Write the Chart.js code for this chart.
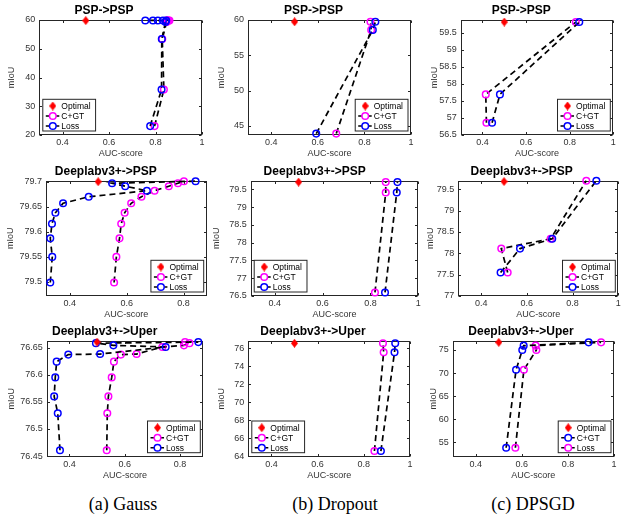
<!DOCTYPE html>
<html><head><meta charset="utf-8">
<script src="https://cdn.jsdelivr.net/npm/chart.js@4"></script>
<style>
html,body{margin:0;padding:0;background:#fff;}
#wrap{position:relative;width:622px;height:519px;overflow:hidden;background:#fff;}
#wrap canvas{position:absolute;}
.cap{position:absolute;top:494px;line-height:20px;font-size:18px;font-family:"Liberation Serif","Times New Roman",serif;color:#000;transform:translateX(-50%);white-space:nowrap;}
</style></head><body>
<div id="wrap">
<div class="cap" style="left:123px">(a) Gauss</div>
<div class="cap" style="left:335px">(b) Dropout</div>
<div class="cap" style="left:533px">(c) DPSGD</div>
</div>
<script>
// ---------- tick labels ----------
const xTicksFull  = [0.4, 0.6, 0.8, 1];
const xTicksShort = [0.4, 0.6, 0.8];
const yTicksGaussPsp     = [20, 30, 40, 50, 60];
const yTicksDropoutPsp   = [45, 50, 55, 60];
const yTicksDpsgdPsp     = [56.5, 57, 57.5, 58, 58.5, 59, 59.5];
const yTicksGaussDlPsp   = [79.5, 79.55, 79.6, 79.65, 79.7];
const yTicksDropoutDlPsp = [76.5, 77, 77.5, 78, 78.5, 79, 79.5];
const yTicksDpsgdDlPsp   = [77, 77.5, 78, 78.5, 79, 79.5];
const yTicksGaussDlUper  = [76.45, 76.5, 76.55, 76.6, 76.65];
const yTicksDropoutDlUper= [64, 66, 68, 70, 72, 74, 76];
const yTicksDpsgdDlUper  = [55, 60, 65, 70, 75];

// ---------- series values ----------
// (a) Gauss, PSP->PSP
const gaussPspMiou    = [23.1, 35.8, 53.4, 59.3, 59.8, 59.82, 59.83, 59.84, 59.85];
const gaussPspLossAuc = [0.777, 0.826, 0.827, 0.843, 0.846, 0.832, 0.810, 0.789, 0.756];
const gaussPspCgtAuc  = [0.796, 0.836, 0.829, 0.848, 0.860, 0.856, 0.853, 0.850, 0.848];
// (b) Dropout, PSP->PSP
const dropoutPspMiou    = [43.9, 58.6, 59.75];
const dropoutPspLossAuc = [0.593, 0.836, 0.847];
const dropoutPspCgtAuc  = [0.679, 0.829, 0.826];
// (c) DPSGD, PSP->PSP
const dpsgdPspMiou    = [56.86, 57.69, 59.81];
const dpsgdPspLossAuc = [0.444, 0.480, 0.844];
const dpsgdPspCgtAuc  = [0.418, 0.415, 0.828];
// (a) Gauss, Deeplabv3+->PSP
const gaussDlPspMiou    = [79.499, 79.550, 79.587, 79.616, 79.638, 79.657, 79.670, 79.682, 79.691, 79.697, 79.701];
const gaussDlPspLossAuc = [0.332, 0.339, 0.332, 0.338, 0.350, 0.377, 0.467, 0.671, 0.595, 0.549, 0.842];
const gaussDlPspCgtAuc  = [0.556, 0.564, 0.575, 0.581, 0.593, 0.616, 0.652, 0.698, 0.748, 0.780, 0.801];
// (b) Dropout, Deeplabv3+->PSP
const dropoutDlPspMiou    = [76.6, 79.41, 79.7];
const dropoutDlPspLossAuc = [0.861, 0.910, 0.913];
const dropoutDlPspCgtAuc  = [0.819, 0.864, 0.864];
// (c) DPSGD, Deeplabv3+->PSP
const dpsgdDlPspMiou    = [77.55, 78.11, 78.34, 79.70];
const dpsgdDlPspLossAuc = [0.485, 0.570, 0.711, 0.904];
const dpsgdDlPspCgtAuc  = [0.516, 0.488, 0.704, 0.860];
// (a) Gauss, Deeplabv3+->Uper
const gaussDlUperMiou    = [76.461, 76.529, 76.560, 76.595, 76.624, 76.637, 76.638, 76.651, 76.654, 76.658, 76.660];
const gaussDlUperLossAuc = [0.366, 0.358, 0.345, 0.349, 0.354, 0.396, 0.511, 0.748, 0.559, 0.496, 0.866];
const gaussDlUperCgtAuc  = [0.535, 0.537, 0.541, 0.553, 0.561, 0.586, 0.643, 0.736, 0.814, 0.834, 0.818];
// (b) Dropout, Deeplabv3+->Uper
const dropoutDlUperMiou    = [64.59, 75.56, 76.56];
const dropoutDlUperLossAuc = [0.874, 0.933, 0.936];
const dropoutDlUperCgtAuc  = [0.846, 0.886, 0.883];
// (c) DPSGD, Deeplabv3+->Uper (legend colours swapped in the original)
const dpsgdDlUperMiou    = [53.84, 70.72, 75.0, 75.94, 76.66];
const dpsgdDlUperCgtAuc  = [0.532, 0.575, 0.602, 0.608, 0.890];
const dpsgdDlUperLossAuc = [0.572, 0.609, 0.663, 0.660, 0.944];
// Optimal points
const optimalAuc  = 0.5;
const optimalMiou = [59.8, 59.75, 59.81, 79.7, 79.7, 79.68, 76.66, 76.56, 76.66];

// ---------- styling / layout ----------
const FONT = '"Liberation Sans", Arial, Helvetica, sans-serif';
const MAGENTA = '#ff00ff', BLUE = '#0000ff', RED = '#ff0000', AXIS = '#262626';

const panels = [
 {title:'PSP->PSP', L:39.3, T:20, R:202, B:135, d:27.6, x:[0.3,1], y:[20,60], xt:xTicksFull, yt:yTicksGaussPsp, leg:'left',
  miou:gaussPspMiou, series:[{label:'C+GT',color:MAGENTA,auc:gaussPspCgtAuc},{label:'Loss',color:BLUE,auc:gaussPspLossAuc}], opt:optimalMiou[0]},
 {title:'PSP->PSP', L:248, T:20, R:411, B:135, d:26.3, x:[0.3,1], y:[43.7,60], xt:xTicksFull, yt:yTicksDropoutPsp, leg:'right',
  miou:dropoutPspMiou, series:[{label:'C+GT',color:MAGENTA,auc:dropoutPspCgtAuc},{label:'Loss',color:BLUE,auc:dropoutPspLossAuc}], opt:optimalMiou[1]},
 {title:'PSP->PSP', L:460.7, T:20, R:613.3, B:135, d:25.7, x:[0.3,1], y:[56.5,59.87], xt:xTicksFull, yt:yTicksDpsgdPsp, leg:'right',
  miou:dpsgdPspMiou, series:[{label:'C+GT',color:MAGENTA,auc:dpsgdPspCgtAuc},{label:'Loss',color:BLUE,auc:dpsgdPspLossAuc}], opt:optimalMiou[2]},
 {title:'Deeplabv3+->PSP', L:46, T:180.7, R:206.7, B:296, d:35.3, x:[0.317,0.881], y:[79.472,79.702], xt:xTicksShort, yt:yTicksGaussDlPsp, leg:'right',
  miou:gaussDlPspMiou, series:[{label:'C+GT',color:MAGENTA,auc:gaussDlPspCgtAuc},{label:'Loss',color:BLUE,auc:gaussDlPspLossAuc}], opt:optimalMiou[3]},
 {title:'Deeplabv3+->PSP', L:250.7, T:180.7, R:418.3, B:296, d:33.4, x:[0.3,1], y:[76.5,79.74], xt:xTicksFull, yt:yTicksDropoutDlPsp, leg:'left',
  miou:dropoutDlPspMiou, series:[{label:'C+GT',color:MAGENTA,auc:dropoutDlPspCgtAuc},{label:'Loss',color:BLUE,auc:dropoutDlPspLossAuc}], opt:optimalMiou[4]},
 {title:'Deeplabv3+->PSP', L:458.3, T:180.7, R:618.3, B:296, d:27.6, x:[0.3,1], y:[77,79.7], xt:xTicksFull, yt:yTicksDpsgdDlPsp, leg:'right',
  miou:dpsgdDlPspMiou, series:[{label:'C+GT',color:MAGENTA,auc:dpsgdDlPspCgtAuc},{label:'Loss',color:BLUE,auc:dpsgdDlPspLossAuc}], opt:optimalMiou[5]},
 {title:'Deeplabv3+->Uper', L:46.7, T:341, R:203.3, B:456.7, d:35, x:[0.318,0.884], y:[76.449,76.662], xt:xTicksShort, yt:yTicksGaussDlUper, leg:'right',
  miou:gaussDlUperMiou, series:[{label:'C+GT',color:MAGENTA,auc:gaussDlUperCgtAuc},{label:'Loss',color:BLUE,auc:gaussDlUperLossAuc}], opt:optimalMiou[6]},
 {title:'Deeplabv3+->Uper', L:248.3, T:341, R:410, B:456.7, d:26.6, x:[0.3,1], y:[63.96,76.81], xt:xTicksFull, yt:yTicksDropoutDlUper, leg:'left',
  miou:dropoutDlUperMiou, series:[{label:'C+GT',color:MAGENTA,auc:dropoutDlUperCgtAuc},{label:'Loss',color:BLUE,auc:dropoutDlUperLossAuc}], opt:optimalMiou[7]},
 {title:'Deeplabv3+->Uper', L:452.7, T:341, R:614, B:456.7, d:18.7, x:[0.3,1], y:[51.9,76.95], xt:xTicksFull, yt:yTicksDpsgdDlUper, leg:'right',
  miou:dpsgdDlUperMiou, series:[{label:'C+GT',color:BLUE,auc:dpsgdDlUperCgtAuc},{label:'Loss',color:MAGENTA,auc:dpsgdDlUperLossAuc}], opt:optimalMiou[8]},
];

function makeDiamond(w, h, color) {
  const c = document.createElement('canvas');
  c.width = w; c.height = h;
  const g = c.getContext('2d');
  g.fillStyle = color;
  g.beginPath(); g.moveTo(w/2, 0); g.lineTo(w, h/2); g.lineTo(w/2, h); g.lineTo(0, h/2); g.closePath(); g.fill();
  return c;
}
const diamond = makeDiamond(7, 9, RED);

const framePlugin = {
  id: 'matFrame',
  beforeDatasetsDraw(chart) {
    const {ctx, chartArea: a, scales: {x, y}} = chart;
    ctx.save();
    ctx.strokeStyle = AXIS; ctx.lineWidth = 1;
    const l = Math.round(a.left) + 0.5, r = Math.round(a.right) - 0.5, t = Math.round(a.top) + 0.5, b = Math.round(a.bottom) - 0.5;
    ctx.strokeRect(l, t, r - l, b - t);
    ctx.beginPath();
    const tl = 2.5;
    x.ticks.forEach(tk => { const px = Math.round(x.getPixelForValue(tk.value)) + 0.5; ctx.moveTo(px, b); ctx.lineTo(px, b - tl); ctx.moveTo(px, t); ctx.lineTo(px, t + tl); });
    y.ticks.forEach(tk => { const py = Math.round(y.getPixelForValue(tk.value)) + 0.5; ctx.moveTo(l, py); ctx.lineTo(l + tl, py); ctx.moveTo(r, py); ctx.lineTo(r - tl, py); });
    ctx.stroke();
    ctx.restore();
  }
};

function legendPlugin(p) {
  return {
    id: 'matLegend',
    afterDatasetsDraw(chart) {
      const {ctx, chartArea: a} = chart;
      const ds = chart.data.datasets;
      const items = [ds.find(d => d.label === 'Optimal'), ds.find(d => d.label === 'C+GT'), ds.find(d => d.label === 'Loss')];
      ctx.save();
      ctx.font = '8.5px ' + FONT;
      const tw = Math.max(...items.map(it => ctx.measureText(it.label).width));
      const w = 18.5 + tw + 5, h = 31.7;
      const bx = p.leg === 'left' ? a.left + 3.5 : a.right - 3 - w;
      const by = a.bottom - 4 - h;
      ctx.fillStyle = '#fff'; ctx.fillRect(bx, by, w, h);
      ctx.strokeStyle = AXIS; ctx.lineWidth = 1; ctx.strokeRect(bx, by, w, h);
      items.forEach((it, i) => {
        const cy = by + 6.7 + i * 10;
        const mx = bx + 10;
        if (it.label === 'Optimal') {
          ctx.drawImage(diamond, mx - diamond.width / 2, cy - diamond.height / 2);
        } else {
          ctx.strokeStyle = '#000'; ctx.lineWidth = 1.6;
          ctx.beginPath(); ctx.moveTo(bx + 3, cy); ctx.lineTo(bx + 7, cy); ctx.moveTo(bx + 13.3, cy); ctx.lineTo(bx + 16.5, cy); ctx.stroke();
          ctx.strokeStyle = it.pointBorderColor; ctx.lineWidth = 1.5;
          ctx.beginPath(); ctx.arc(mx, cy, 3.3, 0, Math.PI * 2); ctx.stroke();
        }
        ctx.fillStyle = '#000'; ctx.textBaseline = 'middle'; ctx.textAlign = 'left';
        ctx.fillText(it.label, bx + 18.5, cy + 0.5);
      });
      ctx.restore();
    }
  };
}

const wrap = document.getElementById('wrap');
panels.forEach(p => {
  const padL = p.d + 5.4;
  const left = Math.floor(p.L - padL), right = Math.ceil(p.R + padL);
  const top = Math.floor(p.T - 17), bottom = Math.ceil(p.B + 24);
  const cv = document.createElement('canvas');
  cv.width = right - left; cv.height = bottom - top;
  cv.style.left = left + 'px'; cv.style.top = top + 'px';
  cv.style.width = cv.width + 'px'; cv.style.height = cv.height + 'px';
  wrap.appendChild(cv);
  const yW = p.L - left, rPad = right - p.R, xH = bottom - p.B;
  const titlePadTop = (p.T - top) - 14.4 - 2.3;

  const lineSeries = p.series.map(s => ({
    label: s.label,
    data: s.auc.map((v, i) => ({x: v, y: p.miou[i]})),
    showLine: true, fill: false, tension: 0,
    borderColor: '#000', borderWidth: 1.7, borderDash: [6, 4],
    pointStyle: 'circle', pointRadius: 3.3, pointBorderWidth: 1.5,
    pointBorderColor: s.color, pointBackgroundColor: 'rgba(255,255,255,0)',
    clip: false
  }));
  // blue markers are drawn on top of magenta ones
  lineSeries.sort((a, b) => (a.pointBorderColor === BLUE ? -1 : 1) - (b.pointBorderColor === BLUE ? -1 : 1));
  const datasets = [{
    label: 'Optimal', data: [{x: optimalAuc, y: p.opt}], showLine: false,
    pointStyle: diamond, pointRadius: 4, borderColor: RED, backgroundColor: RED, clip: false
  }].concat(lineSeries);

  const tickFont = {family: FONT, size: 9, lineHeight: 1.2};
  new Chart(cv, {
    type: 'scatter',
    data: {datasets},
    options: {
      responsive: false, animation: false, devicePixelRatio: 1,
      layout: {padding: {left: 0, right: rPad, top: 0, bottom: 0}},
      plugins: {
        legend: {display: false}, tooltip: {enabled: false},
        title: {display: true, text: p.title, color: '#000', font: {family: FONT, size: 12, weight: 'bold', lineHeight: 1.2}, padding: {top: titlePadTop, bottom: 2.3}}
      },
      scales: {
        x: {
          type: 'linear', min: p.x[0], max: p.x[1],
          grid: {display: false, drawTicks: false}, border: {display: false},
          ticks: {font: tickFont, color: '#333', padding: 2, autoSkip: false, maxRotation: 0, callback: v => String(v)},
          title: {display: true, text: 'AUC-score', font: tickFont, color: '#333', padding: 0},
          afterBuildTicks: s => { s.ticks = p.xt.map(v => ({value: v})); },
          afterFit: s => { s.height = xH; s.paddingLeft = 0; s.paddingRight = 0; s.paddingTop = 0; s.paddingBottom = 0; }
        },
        y: {
          type: 'linear', min: p.y[0], max: p.y[1],
          grid: {display: false, drawTicks: false}, border: {display: false},
          ticks: {font: tickFont, color: '#333', padding: 4, autoSkip: false, callback: v => String(v)},
          title: {display: true, text: 'mIoU', font: tickFont, color: '#333', padding: 0},
          afterBuildTicks: s => { s.ticks = p.yt.map(v => ({value: v})); },
          afterFit: s => { s.width = yW; s.paddingLeft = 0; s.paddingRight = 0; s.paddingTop = 0; s.paddingBottom = 0; }
        }
      }
    },
    plugins: [framePlugin, legendPlugin(p)]
  });
});
</script>
</body></html>
